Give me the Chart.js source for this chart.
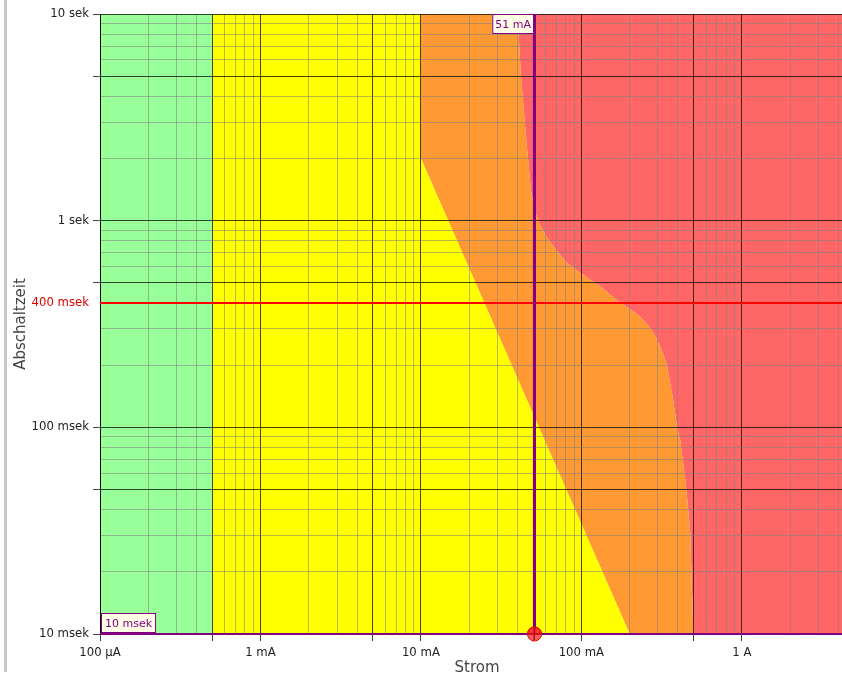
<!DOCTYPE html>
<html>
<head>
<meta charset="utf-8">
<script src="https://cdn.jsdelivr.net/npm/chart.js@4"></script>
<style>
  html, body { margin: 0; padding: 0; background: #fff; overflow: hidden; }
  #wrap { position: relative; width: 862px; height: 675px; }
  #frame { position: absolute; left: 4px; top: 0; width: 3px; height: 672px; background: #c8c8c8; }
  #chart { position: absolute; left: 0; top: 0; }
</style>
</head>
<body>
<div id="wrap">
  <div id="frame"></div>
  <canvas id="chart" width="862" height="675"></canvas>
</div>
<script>
// Achsen: Strom in mA, Zeit in s
const xMin = 0.1, xMax = 5000;
const yMin = 0.01, yMax = 10;

const xLabelValues = [0.1, 1, 10, 100, 1000];
const xLabelTexts = ['100 µA', '1 mA', '10 mA', '100 mA', '1 A'];
const yLabelValues = [0.01, 0.1, 0.4, 1, 10];
const yLabelTexts = ['10 msek', '100 msek', '400 msek', '1 sek', '10 sek'];

// Grenze zwischen grün und gelb (mA)
const limitA = 0.5;
// Grenze b (gelb / orange)
const curveB = [
    { x: 10, y: 10 }, { x: 10, y: 2 }, { x: 200, y: 0.01 }
];
// Grenze c1 (orange / rot)
const curveC1 = [
    { x: 40, y: 10 }, { x: 42, y: 5 }, { x: 45.5, y: 2.4 }, { x: 48.5, y: 1.4 },
    { x: 51.5, y: 1.1 }, { x: 55, y: 0.96 }, { x: 61, y: 0.83 }, { x: 70, y: 0.72 },
    { x: 81, y: 0.625 }, { x: 98, y: 0.56 }, { x: 131, y: 0.48 }, { x: 175, y: 0.4 },
    { x: 205, y: 0.37 }, { x: 233, y: 0.342 }, { x: 268, y: 0.303 }, { x: 290, y: 0.275 },
    { x: 310, y: 0.245 }, { x: 328, y: 0.22 }, { x: 343, y: 0.196 }, { x: 373, y: 0.136 },
    { x: 395, y: 0.1 }, { x: 413, y: 0.087 }, { x: 444, y: 0.056 }, { x: 457, y: 0.045 },
    { x: 477, y: 0.031 }, { x: 487, y: 0.018 }, { x: 500, y: 0.01 }
];

// Grenzwert und Messpunkt
const thresholdTime = 0.4;
const markerCurrent = 51;
const markerTime = 0.01;

// Flächen als geschlossene Polygone
const greenZone = [
    { x: xMin, y: yMin }, { x: xMin, y: yMax }, { x: limitA, y: yMax }, { x: limitA, y: yMin }
];
const yellowZone = [{ x: limitA, y: yMin }, { x: limitA, y: yMax }].concat(curveB);
const orangeZone = curveB.concat(curveC1.slice().reverse());
const redZone = curveC1.concat([{ x: xMax, y: yMin }, { x: xMax, y: yMax }]);

const fontFamily = '"DejaVu Sans", Verdana, sans-serif';
const purple = '#800080';

// alle Teilstriche 1..9 je Dekade
function decadeTicks(min, max) {
    const out = [];
    for (let d = min; d < max * 1.0001; d *= 10) {
        for (let m = 1; m <= 9; m++) {
            const v = Number((m * d).toPrecision(6));
            if (v <= max * 1.0001) out.push(v);
        }
    }
    return out;
}

function mantissa(v) {
    const m = v / Math.pow(10, Math.floor(Math.log10(v) + 1e-9));
    return Math.round(m * 1000) / 1000;
}

function isMajor(v) {
    const m = mantissa(v);
    return m === 1 || m === 5;
}

function findLabel(values, texts, v) {
    const i = values.findIndex(x => Math.abs(x - v) / v < 1e-6);
    return i >= 0 ? texts[i] : '';
}

function zone(data, color, order) {
    return {
        data: data,
        backgroundColor: color,
        borderWidth: 0,
        pointRadius: 0,
        fill: 'shape',
        order: order
    };
}

function gridOptions() {
    return {
        z: 1,
        color: c => isMajor(c.tick.value) ? 'rgba(0,0,0,0.72)' : 'rgba(125,125,125,0.55)',
        tickColor: c => isMajor(c.tick.value) ? '#444' : 'rgba(0,0,0,0)',
        tickLength: 7
    };
}

// Linien und Messpunkt werden zusätzlich über dem Gitter gezeichnet
const overlayPlugin = {
    id: 'overlay',
    afterDraw(chart) {
        chart.data.datasets.forEach((ds, i) => {
            if (ds.overlay) chart.getDatasetMeta(i).controller.draw();
        });
        const ctx = chart.ctx;
        const xs = chart.scales.x, ys = chart.scales.y;
        ctx.save();
        ctx.font = '11px ' + fontFamily;
        ctx.textBaseline = 'middle';

        function box(text, left, top, pad) {
            const w = ctx.measureText(text).width + pad * 2;
            const h = 20;
            ctx.fillStyle = '#fffde8';
            ctx.fillRect(left, top, w, h);
            ctx.strokeStyle = purple;
            ctx.lineWidth = 1;
            ctx.strokeRect(left + 0.5, top + 0.5, w - 1, h - 1);
            ctx.fillStyle = purple;
            ctx.textAlign = 'center';
            ctx.fillText(text, left + w / 2, top + h / 2 + 1);
        }

        const text1 = markerCurrent + ' mA';
        const px = xs.getPixelForValue(markerCurrent);
        const w1 = ctx.measureText(text1).width + 6;
        box(text1, Math.round(px) - w1, Math.round(ys.getPixelForValue(yMax)), 3);

        const text2 = Math.round(markerTime * 1000) + ' msek';
        box(text2, Math.round(xs.getPixelForValue(xMin)) + 1, Math.round(ys.getPixelForValue(markerTime)) - 21, 4);
        ctx.restore();
    }
};

const ctx = document.getElementById('chart').getContext('2d');
new Chart(ctx, {
    type: 'line',
    data: {
        datasets: [
            zone(redZone, '#ff6666', 4),
            zone(orangeZone, '#ff9933', 3),
            zone(yellowZone, '#ffff00', 2),
            zone(greenZone, '#99ff99', 1),
            {
                data: [{ x: xMin, y: thresholdTime }, { x: xMax, y: thresholdTime }],
                borderColor: '#ff0000', borderWidth: 2, pointRadius: 0, fill: false, order: 0, overlay: true
            },
            {
                data: [{ x: xMin, y: markerTime }, { x: xMax, y: markerTime }],
                borderColor: purple, borderWidth: 2, pointRadius: 0, fill: false, order: 0, overlay: true
            },
            {
                data: [{ x: markerCurrent, y: yMin }, { x: markerCurrent, y: yMax }],
                borderColor: purple, borderWidth: 3, pointRadius: 0, fill: false, order: 0, overlay: true
            },
            {
                data: [{ x: markerCurrent, y: markerTime }],
                showLine: false, pointStyle: 'circle', pointRadius: 7,
                pointBackgroundColor: 'rgba(255,40,40,0.75)', pointBorderColor: '#e00000',
                pointBorderWidth: 1, order: 0, overlay: true
            },
            {
                data: [{ x: markerCurrent, y: markerTime }],
                showLine: false, pointStyle: 'cross', pointRadius: 6,
                pointBorderColor: '#b00000', pointBorderWidth: 1, order: 0, overlay: true
            }
        ]
    },
    options: {
        responsive: false,
        animation: false,
        devicePixelRatio: 1,
        layout: { padding: { top: 14, left: 0, right: 0, bottom: 0 } },
        plugins: {
            legend: { display: false },
            tooltip: { enabled: false }
        },
        scales: {
            x: {
                type: 'logarithmic',
                min: xMin,
                max: xMax,
                afterBuildTicks: s => { s.ticks = decadeTicks(xMin, xMax).map(v => ({ value: v })); },
                afterFit: s => { s.height = 41; },
                border: { color: 'rgba(0,0,0,0.75)', z: 1 },
                grid: gridOptions(),
                ticks: {
                    autoSkip: false,
                    maxRotation: 0,
                    padding: 5,
                    color: '#222',
                    font: { family: fontFamily, size: 11.7 },
                    callback: v => findLabel(xLabelValues, xLabelTexts, v)
                },
                title: {
                    display: true,
                    text: 'Strom',
                    color: '#444',
                    padding: { top: 4, bottom: -2 },
                    font: { family: fontFamily, size: 15 }
                }
            },
            y: {
                type: 'logarithmic',
                min: yMin,
                max: yMax,
                afterBuildTicks: s => { s.ticks = decadeTicks(yMin, yMax).map(v => ({ value: v })); },
                afterFit: s => { s.width = 100; },
                border: { color: 'rgba(0,0,0,0.75)', z: 1 },
                grid: gridOptions(),
                ticks: {
                    autoSkip: false,
                    padding: 4,
                    color: c => Math.abs(c.tick.value - thresholdTime) < 1e-6 ? '#e00000' : '#222',
                    font: { family: fontFamily, size: 11.7 },
                    callback: v => findLabel(yLabelValues, yLabelTexts, v)
                },
                title: {
                    display: true,
                    text: 'Abschaltzeit',
                    color: '#444',
                    padding: { top: 12, bottom: 0 },
                    font: { family: fontFamily, size: 15 }
                }
            }
        }
    },
    plugins: [overlayPlugin]
});
</script>
</body>
</html>
